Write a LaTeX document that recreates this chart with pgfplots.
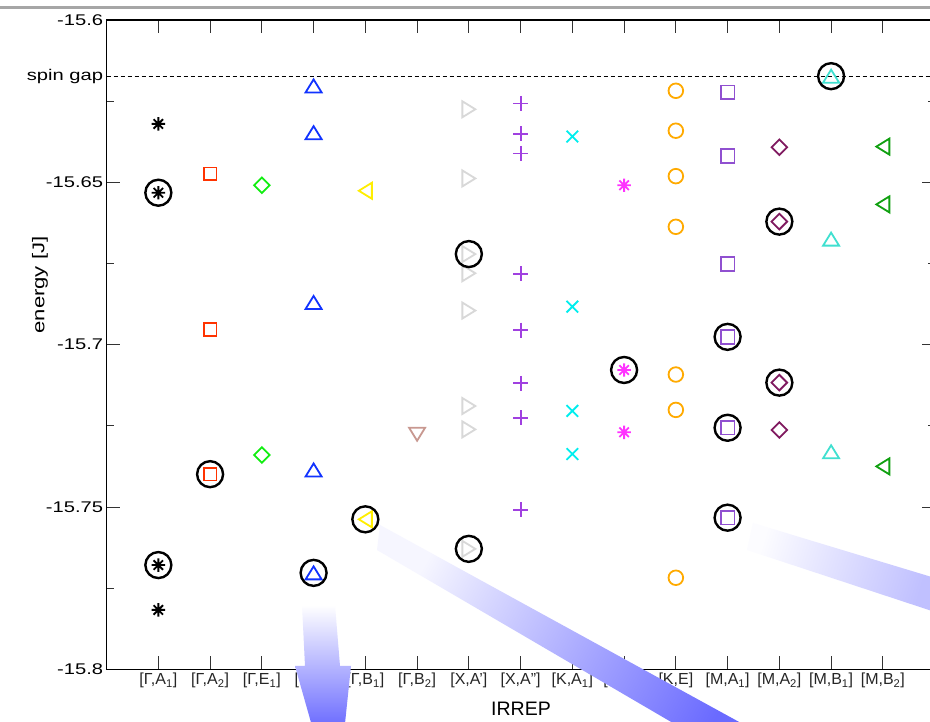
\documentclass[border=0pt]{standalone}
\usepackage{fontspec}
\setmainfont{Liberation Sans}
\newfontfamily\widefont[FakeStretch=1.3]{Liberation Sans}
\usepackage{pgfplots}
\pgfplotsset{compat=1.18}
\definecolor{cA2}{HTML}{FF3300}
\definecolor{cE1}{HTML}{11EE11}
\definecolor{cE2}{HTML}{1133FF}
\definecolor{cB1}{HTML}{FFEE00}
\definecolor{cB2}{HTML}{C89890}
\definecolor{cXA1}{HTML}{D8D8D8}
\definecolor{cXA2}{HTML}{A040E0}
\definecolor{cKA1}{HTML}{00EEEE}
\definecolor{cKA2}{HTML}{FF33FF}
\definecolor{cKE}{HTML}{FFAA00}
\definecolor{cMA1}{HTML}{9050D0}
\definecolor{cMA2}{HTML}{801A60}
\definecolor{cMB1}{HTML}{40E0D0}
\definecolor{cMB2}{HTML}{10A010}
\definecolor{arrA}{HTML}{6464FF}
\definecolor{arrB}{HTML}{6A6AFF}
\definecolor{arrC}{HTML}{C0C0FF}
\pgfdeclareplotmark{ast}{%
 \pgfpathmoveto{\pgfqpoint{-\pgfplotmarksize}{0pt}}\pgfpathlineto{\pgfqpoint{\pgfplotmarksize}{0pt}}%
 \pgfpathmoveto{\pgfqpoint{0pt}{-\pgfplotmarksize}}\pgfpathlineto{\pgfqpoint{0pt}{\pgfplotmarksize}}%
 \pgfpathmoveto{\pgfqpoint{-.7071\pgfplotmarksize}{-.7071\pgfplotmarksize}}\pgfpathlineto{\pgfqpoint{.7071\pgfplotmarksize}{.7071\pgfplotmarksize}}%
 \pgfpathmoveto{\pgfqpoint{-.7071\pgfplotmarksize}{.7071\pgfplotmarksize}}\pgfpathlineto{\pgfqpoint{.7071\pgfplotmarksize}{-.7071\pgfplotmarksize}}%
 \pgfusepathqstroke}
\pgfdeclareplotmark{tri}{%
 \pgfpathmoveto{\pgfqpoint{0pt}{.8125\pgfplotmarksize}}%
 \pgfpathlineto{\pgfqpoint{\pgfplotmarksize}{-.8125\pgfplotmarksize}}%
 \pgfpathlineto{\pgfqpoint{-\pgfplotmarksize}{-.8125\pgfplotmarksize}}%
 \pgfpathclose\pgfusepathqstroke}
\begin{document}
\begin{tikzpicture}[x=1pt,y=1pt]
\useasboundingbox (0,0) rectangle (930,721);
\begin{scope}
\clip (0,0) rectangle (930,721);
\fill[white] (0,0) rectangle (930,721);
\draw[line width=3pt, color=black!35] (0,713) -- (930,713);
\begin{axis}[
  at={(106.6pt,51.7pt)}, anchor=south west,
  scale only axis, width=828pt, height=649.3pt,
  xmin=0, xmax=16, ymin=-15.8, ymax=-15.6,
  axis line style={line width=1.5pt, black},
  tick align=inside,
  tick style={line width=0.9pt, black!80},
  major tick length=13pt, minor tick length=7pt,
  xtick={1,...,15},
  xticklabels={{[Γ,A\textsubscript{1}]},{[Γ,A\textsubscript{2}]},{[Γ,E\textsubscript{1}]},{[Γ,E\textsubscript{2}]},{[Γ,B\textsubscript{1}]},{[Γ,B\textsubscript{2}]},{[X,A']},{[X,A'']},{[K,A\textsubscript{1}]},{[K,A\textsubscript{2}]},{[K,E]},{[M,A\textsubscript{1}]},{[M,A\textsubscript{2}]},{[M,B\textsubscript{1}]},{[M,B\textsubscript{2}]}},
  xticklabel style={font=\fontsize{16}{18}\selectfont, text=black!85},
  ytick={-15.8,-15.75,-15.7,-15.65,-15.6},
  yticklabels={-15.8,-15.75,-15.7,-15.65,-15.6},
  minor ytick={-15.775,-15.725,-15.675,-15.625},
  yticklabel style={font=\widefont\fontsize{15.5}{18}\selectfont},
  extra y ticks={-15.6175},
  extra y tick labels={spin gap},
  extra y tick style={major tick length=0pt},
]
\addplot[black, line width=1pt, dash pattern=on 4pt off 3pt] coordinates {(0,-15.6175) (16,-15.6175)};
% [Gamma,A1]
\addplot[only marks, mark=ast, mark size=6.7pt, black, line width=1.8pt] coordinates {(1,-15.6320) (1,-15.6532) (1,-15.7679) (1,-15.7817)};
% [Gamma,A2]
\addplot[only marks, mark=square, mark size=6.4pt, cA2, line width=1.8pt] coordinates {(2,-15.6474) (2,-15.6953) (2,-15.7399)};
% [Gamma,E1]
\addplot[only marks, mark=square, mark size=5.5pt, mark options={rotate=45}, cE1, line width=1.8pt] coordinates {(3,-15.6509) (3,-15.7340)};
% [Gamma,E2]
\addplot[only marks, mark=tri, mark size=8pt, cE2, line width=1.8pt] coordinates {(4,-15.6203) (4,-15.6347) (4,-15.6870) (4,-15.7386) (4,-15.7703)};
% [Gamma,B1]
\addplot[only marks, mark=tri, mark size=8pt, mark options={rotate=90}, cB1, line width=1.8pt] coordinates {(5,-15.6526) (5,-15.7538)};
% [Gamma,B2]
\addplot[only marks, mark=tri, mark size=8pt, mark options={rotate=180}, cB2, line width=1.8pt] coordinates {(6,-15.7276)};
% [X,A']
\addplot[only marks, mark=tri, mark size=8pt, mark options={rotate=-90}, cXA1, line width=1.8pt] coordinates {(7,-15.6275) (7,-15.6488) (7,-15.6721) (7,-15.6780) (7,-15.6895) (7,-15.7189) (7,-15.7261) (7,-15.7629)};
% [X,A'']
\addplot[only marks, mark=+, mark size=7.5pt, cXA2, line width=1.8pt] coordinates {(8,-15.6257) (8,-15.6351) (8,-15.6411) (8,-15.6782) (8,-15.6955) (8,-15.7119) (8,-15.7225) (8,-15.7509)};
% [K,A1]
\addplot[only marks, mark=x, mark size=8.2pt, cKA1, line width=1.8pt] coordinates {(9,-15.6359) (9,-15.6883) (9,-15.7204) (9,-15.7337)};
% [K,A2]
\addplot[only marks, mark=ast, mark size=6.7pt, cKA2, line width=1.8pt] coordinates {(10,-15.6509) (10,-15.7078) (10,-15.7270)};
% [K,E]
\addplot[only marks, mark=o, mark size=7.3pt, cKE, line width=1.8pt] coordinates {(11,-15.6218) (11,-15.6341) (11,-15.6481) (11,-15.6637) (11,-15.7092) (11,-15.7201) (11,-15.7718)};
% [M,A1]
\addplot[only marks, mark=square, mark size=6.8pt, cMA1, line width=1.8pt] coordinates {(12,-15.6223) (12,-15.6419) (12,-15.6752) (12,-15.6976) (12,-15.7256) (12,-15.7533)};
% [M,A2]
\addplot[only marks, mark=square, mark size=5.5pt, mark options={rotate=45}, cMA2, line width=1.8pt] coordinates {(13,-15.6392) (13,-15.6621) (13,-15.7117) (13,-15.7263)};
% [M,B1]
\addplot[only marks, mark=tri, mark size=8pt, cMB1, line width=1.8pt] coordinates {(14,-15.6173) (14,-15.6675) (14,-15.7330)};
% [M,B2]
\addplot[only marks, mark=tri, mark size=8pt, mark options={rotate=90}, cMB2, line width=1.8pt] coordinates {(15,-15.6390) (15,-15.6568) (15,-15.7375)};
% highlighted states
\addplot[only marks, mark=o, mark size=13pt, black, line width=2.4pt] coordinates {(1,-15.6532) (1,-15.7679) (2,-15.7399) (4,-15.7703) (5,-15.7538) (7,-15.6721) (7,-15.7629) (10,-15.7078) (12,-15.6976) (12,-15.7256) (12,-15.7533) (13,-15.6621) (13,-15.7117) (14,-15.6173)};
\end{axis}
\node[rotate=90, font=\widefont\fontsize{17}{20}\selectfont] at (40,436) {energy [J]};
\node[font=\fontsize{19.5}{22}\selectfont, inner sep=0pt] at (521,12) {IRREP};
% overlaid arrows
\shade[top color=white, bottom color=arrA] (302,116) -- (335,116) -- (340,55) -- (351,55) -- (344,-12) -- (314,-12) -- (295,55) -- (305,55) -- cycle;
\shade[bottom color=arrB!6, top color=arrB, shading angle=240.6] (380,196) -- (772,-19) -- (702,-19) -- (377,171) -- cycle;
\shade[bottom color=arrC!5, top color=arrC, shading angle=253] (753,198) -- (935,143) -- (935,109) -- (747,171) -- cycle;
\end{scope}
\end{tikzpicture}
\end{document}
